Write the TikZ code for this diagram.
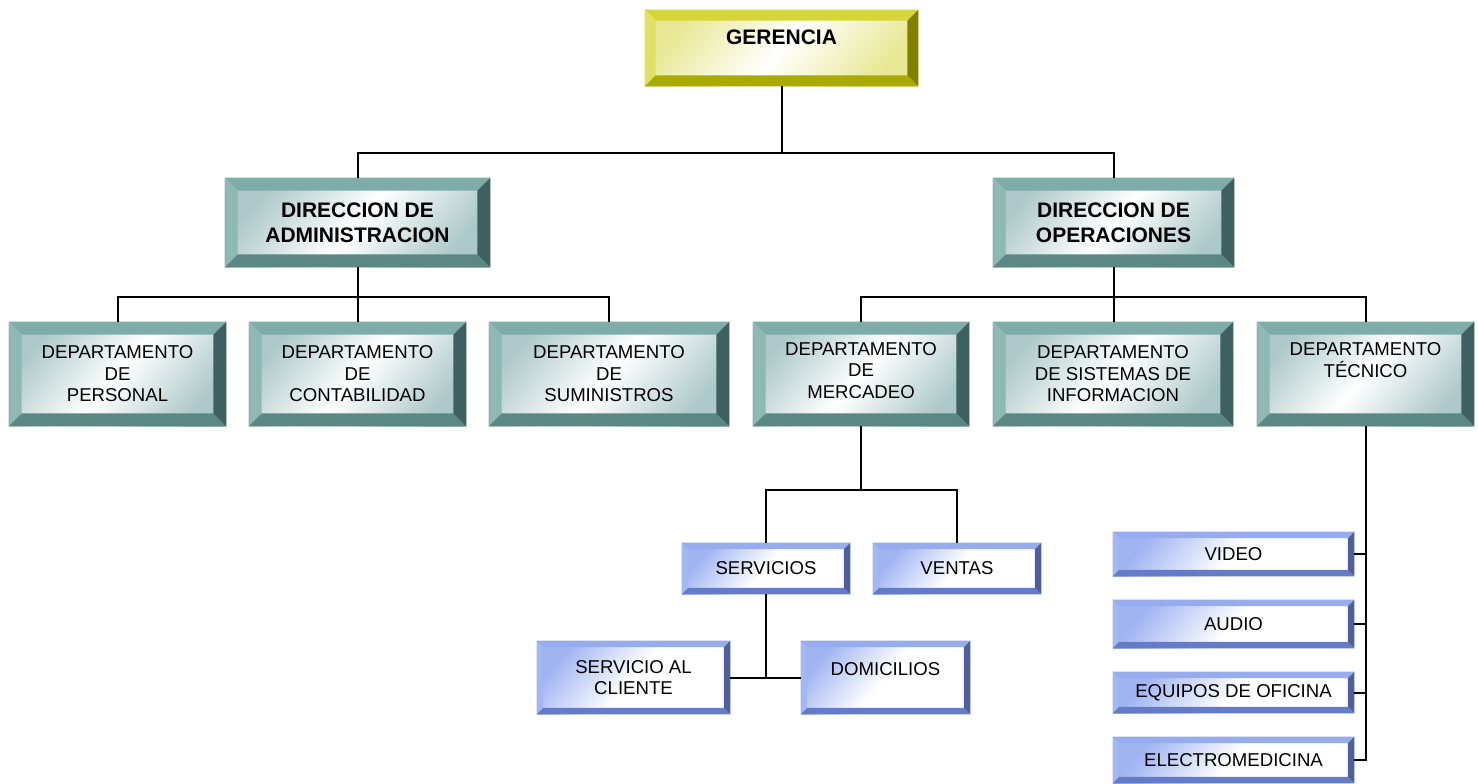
\documentclass[tikz,border=0pt]{standalone}
\usepackage{fontspec}
\setmainfont{Liberation Sans}
\usepackage{tikz}
\usetikzlibrary{positioning, calc}

\definecolor{yelT}{RGB}{214,214,58}
\definecolor{yelL}{RGB}{224,224,100}
\definecolor{yelB}{RGB}{170,170,0}
\definecolor{yelR}{RGB}{128,128,0}
\definecolor{yelF}{RGB}{232,232,150}
\definecolor{tealT}{RGB}{128,172,168}
\definecolor{tealL}{RGB}{142,184,180}
\definecolor{tealB}{RGB}{92,136,132}
\definecolor{tealR}{RGB}{62,96,96}
\definecolor{tealF}{RGB}{172,200,200}
\definecolor{bluT}{RGB}{150,172,236}
\definecolor{bluL}{RGB}{162,184,242}
\definecolor{bluB}{RGB}{100,124,200}
\definecolor{bluR}{RGB}{76,96,160}
\definecolor{bluF}{RGB}{160,180,242}

% bevel frame drawn on top of a named node: node, width, palette
\newcommand\bevel[3]{
\fill[#3T] (#1.north west) -- (#1.north east) -- ([xshift=-#2,yshift=-#2]#1.north east) -- ([xshift=#2,yshift=-#2]#1.north west) -- cycle;
\fill[#3L] (#1.north west) -- ([xshift=#2,yshift=-#2]#1.north west) -- ([xshift=#2,yshift=#2]#1.south west) -- (#1.south west) -- cycle;
\fill[#3B] (#1.south west) -- ([xshift=#2,yshift=#2]#1.south west) -- ([xshift=-#2,yshift=#2]#1.south east) -- (#1.south east) -- cycle;
\fill[#3R] (#1.south east) -- ([xshift=-#2,yshift=#2]#1.south east) -- ([xshift=-#2,yshift=-#2]#1.north east) -- (#1.north east) -- cycle;
}

\tikzset{
box/.style={rectangle, inner sep=0pt, align=center, text=black},
yelbox/.style={box, left color=yelF, right color=yelF, middle color=white, shading angle=50, font=\fontsize{10.5}{12.5}\selectfont\bfseries},
tealdir/.style={box, left color=tealF, right color=tealF, middle color=white, shading angle=50, font=\fontsize{10.5}{12.5}\selectfont\bfseries},
tealbox/.style={box, left color=tealF, right color=tealF, middle color=white, shading angle=50, font=\fontsize{9.3}{10.75}\selectfont},
blubox/.style={box, left color=bluF, right color=white, middle color=white, shading angle=50, font=\fontsize{9.3}{10.75}\selectfont},
link/.style={draw=black, line width=1pt}
}

\begin{document}
\begin{tikzpicture}[x=0.5pt,y=-0.5pt]
\useasboundingbox (0,0) rectangle (1478,783);

\node[yelbox, minimum width=136.5pt, minimum height=38pt, text depth=11pt] (ger) at (781.5,48) {GERENCIA};

\node[tealdir, minimum width=132.5pt, minimum height=44.5pt] (adm) at (357.5,222.5) {DIRECCION DE\\ADMINISTRACION};
\node[tealdir, minimum width=120.5pt, minimum height=44.5pt] (ope) at (1113.5,222.5) {DIRECCION DE\\OPERACIONES};

\node[tealbox, minimum width=108.5pt, minimum height=52pt] (per) at (117.5,374) {DEPARTAMENTO\\DE\\PERSONAL};
\node[tealbox, minimum width=108.5pt, minimum height=52pt] (con) at (357.5,374) {DEPARTAMENTO\\DE\\CONTABILIDAD};
\node[tealbox, minimum width=120pt, minimum height=52pt] (sum) at (609,374) {DEPARTAMENTO\\DE\\SUMINISTROS};
\node[tealbox, minimum width=108pt, minimum height=52pt, text depth=4pt] (mer) at (861,374) {DEPARTAMENTO\\DE\\MERCADEO};
\node[tealbox, minimum width=120pt, minimum height=52pt] (sis) at (1113,374) {DEPARTAMENTO\\DE SISTEMAS DE\\INFORMACION};
\node[tealbox, minimum width=108.5pt, minimum height=52pt, text depth=14pt] (tec) at (1365.5,374) {DEPARTAMENTO\\TÉCNICO};

\node[blubox, minimum width=84pt, minimum height=25.5pt] (ser) at (766,568.5) {SERVICIOS};
\node[blubox, minimum width=84pt, minimum height=25.5pt] (ven) at (957,568.5) {VENTAS};
\node[blubox, minimum width=96.5pt, minimum height=36.5pt] (cli) at (633.5,677.5) {SERVICIO AL\\CLIENTE};
\node[blubox, minimum width=84.5pt, minimum height=36.5pt, text depth=8.5pt] (dom) at (885.5,677.5) {DOMICILIOS};

\node[blubox, minimum width=120.5pt, minimum height=22pt] (vid) at (1233.5,554) {VIDEO};
\node[blubox, minimum width=120.5pt, minimum height=24pt] (aud) at (1233.5,624) {AUDIO};
\node[blubox, minimum width=120.5pt, minimum height=20.5pt] (equ) at (1233.5,692.5) {EQUIPOS DE OFICINA};
\node[blubox, minimum width=120.5pt, minimum height=23pt] (ele) at (1233.5,760) {ELECTROMEDICINA};

\bevel{ger}{5.5pt}{yel}
\foreach \n in {adm,ope,per,con,sum,mer,sis,tec} {\bevel{\n}{6.5pt}{teal}}
\foreach \n in {ser,ven,cli,dom,vid,aud,equ,ele} {\bevel{\n}{3.3pt}{blu}}

\draw[link] (ger.south) -- ++(0,67) coordinate (g1);
\draw[link] (adm.north) |- (g1) -| (ope.north);
\draw[link] (adm.south) -- ++(0,30) coordinate (a1);
\draw[link] (per.north) |- (a1) -| (sum.north);
\draw[link] (a1) -- (a1 |- con.north);
\draw[link] (ope.south) -- ++(0,30) coordinate (o1);
\draw[link] (mer.north) |- (o1) -| (tec.north);
\draw[link] (o1) -- (o1 |- sis.north);
\draw[link] (mer.south) -- ++(0,64) coordinate (m1);
\draw[link] (ser.north) |- (m1) -| (ven.north);
\draw[link] (ser.south) -- (ser.south |- cli.east);
\draw[link] (cli.east) -- (dom.west);
\draw[link] (tec.south) |- (ele.east);
\foreach \n in {vid,aud,equ} {\draw[link] (\n.east) -- (\n.east -| tec.south);}

\end{tikzpicture}
\end{document}
